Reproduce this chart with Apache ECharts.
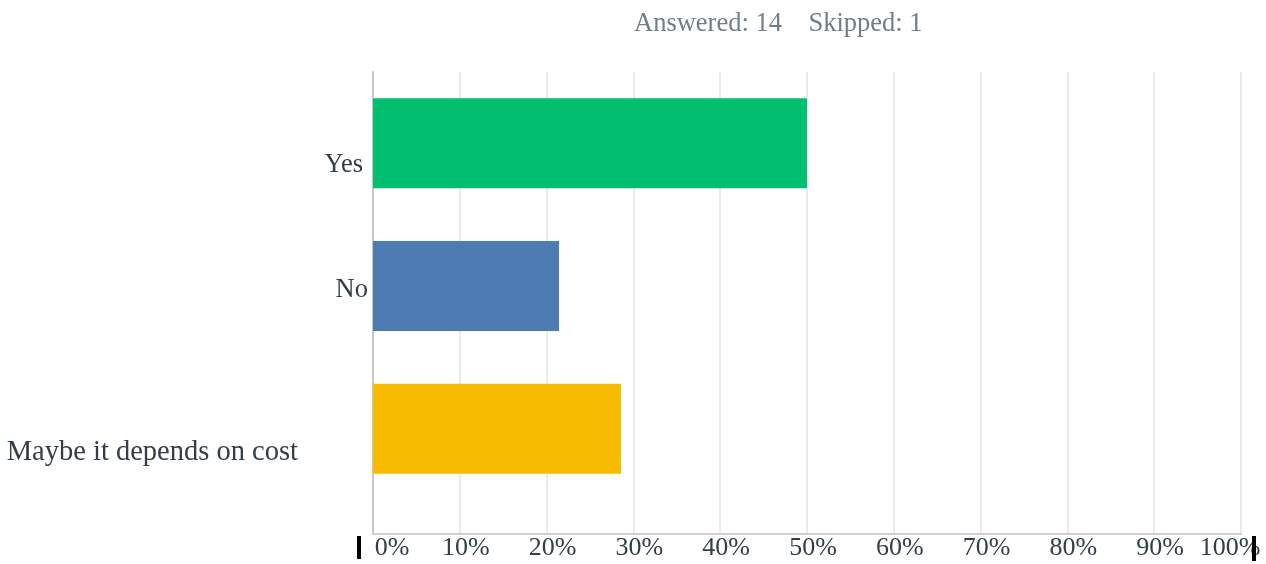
<!DOCTYPE html>
<html>
<head>
<meta charset="utf-8">
<script src="https://cdn.jsdelivr.net/npm/echarts@6/dist/echarts.min.js"></script>
<style>
    html, body { margin: 0; padding: 0; background: #fff; }
    #chart { width: 1266px; height: 564px; }
</style>
</head>
<body>
<div id="chart"></div>
<script>
    // data (14 answered)
    var categories = ['Yes', 'No', 'Maybe it depends on cost'];
    var percents = [50, 21.43, 28.57];
    var tickValues = [0, 10, 20, 30, 40, 50, 60, 70, 80, 90, 100];
    var tickLabels = ['0%', '10%', '20%', '30%', '40%', '50%', '60%', '70%', '80%', '90%', '100%'];
    var answered = 14;
    var skipped = 1;

    var barColors = ['#00bf6f', '#4f7bb5', '#f7bc00'];
    var font = "'Liberation Serif', 'Times New Roman', serif";
    var labelStyles = ['yes', 'no', 'maybe']; // one rich style per category label

    var barData = percents.map(function(v, i){
        return { value: v, itemStyle: { color: barColors[i] } };
    });

    var myChart = echarts.init(document.getElementById('chart'));
    var option = {
        backgroundColor: '#fff',
        animation: false,
        title: {
            text: 'Answered: ' + answered + '    Skipped: ' + skipped,
            left: 629,
            top: 6,
            textStyle: { fontFamily: font, fontSize: 26.5, fontWeight: 'normal', color: '#6f7e88' }
        },
        grid: [
            // frame: grid lines, bottom axis, left axis line
            { left: 373, right: 25, top: 72, bottom: 30, containLabel: false },
            // bars and category labels
            { left: 373, right: 25, top: 72, height: 428, containLabel: false }
        ],
        xAxis: [
            {
                gridIndex: 0,
                type: 'value',
                min: 0,
                max: 100,
                interval: 10,
                axisLine: { show: true, lineStyle: { color: '#cfcfcf', width: 2 } },
                axisTick: { show: false },
                splitLine: { show: true, lineStyle: { color: '#eaeaea', width: 2 } },
                axisLabel: {
                    margin: 1,
                    color: '#333e48',
                    fontFamily: font,
                    fontSize: 26,
                    formatter: function(value){
                        var idx = tickValues.indexOf(value);
                        var txt = tickLabels[idx];
                        if( idx === 0 ) return '{first|' + txt + '}';
                        if( idx === tickValues.length - 1 ) return '{last|' + txt + '}';
                        return '{mid|' + txt + '}';
                    },
                    rich: {
                        first: { fontFamily: font, fontSize: 26, color: '#333e48', padding: [0, 0, 0, 38] },
                        mid: { fontFamily: font, fontSize: 26, color: '#333e48', padding: [0, 0, 0, 12] },
                        last: { fontFamily: font, fontSize: 26, color: '#333e48', padding: [0, 22, 0, 0] }
                    }
                }
            },
            {
                gridIndex: 1,
                type: 'value',
                min: 0,
                max: 100,
                show: false
            }
        ],
        yAxis: [
            {
                gridIndex: 0,
                type: 'value',
                axisLine: { show: true, lineStyle: { color: '#c8c8c8', width: 2 } },
                axisTick: { show: false },
                axisLabel: { show: false },
                splitLine: { show: false }
            },
            {
                gridIndex: 1,
                type: 'category',
                inverse: true,
                data: categories,
                axisLine: { show: false },
                axisTick: { show: false },
                splitLine: { show: false },
                axisLabel: {
                    interval: 0,
                    margin: 5,
                    color: '#333e48',
                    fontFamily: font,
                    fontSize: 26,
                    formatter: function(value, index){
                        return '{' + labelStyles[index] + '|' + value + '}';
                    },
                    rich: {
                        yes: { fontFamily: font, fontSize: 26.5, color: '#333e48', padding: [44, 5, 0, 0] },
                        no: { fontFamily: font, fontSize: 26.5, color: '#333e48', padding: [8, 0, 0, 0] },
                        maybe: { fontFamily: font, fontSize: 28.5, color: '#333e48', padding: [47, 70, 0, 0] }
                    }
                }
            }
        ],
        series: [
            {
                type: 'bar',
                xAxisIndex: 1,
                yAxisIndex: 1,
                barWidth: 90,
                data: barData,
                z: 1
            }
        ],
        graphic: [
            { type: 'rect', left: 357, top: 536, shape: { width: 4, height: 23 }, style: { fill: '#000' }, z: 10 },
            { type: 'rect', left: 1252, top: 536, shape: { width: 4, height: 25 }, style: { fill: '#000' }, z: 10 }
        ]
    };
    myChart.setOption( option );
</script>
</body>
</html>
